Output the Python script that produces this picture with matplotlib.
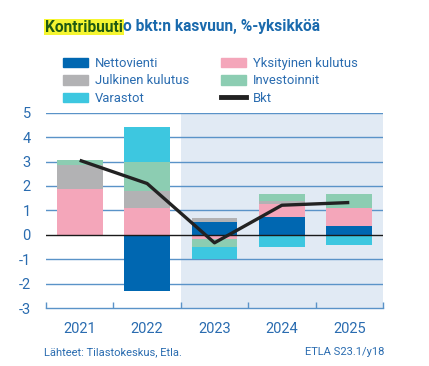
import matplotlib
matplotlib.use("Agg")
import matplotlib.pyplot as plt
from matplotlib.patches import Patch
from matplotlib.lines import Line2D
import numpy as np

plt.rcParams['font.family'] = ['Roboto', 'DejaVu Sans']

years = ["2021", "2022", "2023", "2024", "2025"]
nettovienti = [0.0, -2.31, 0.53, 0.72, 0.35]
yksityinen = [1.88, 1.08, -0.19, 0.56, 0.73]
julkinen = [0.96, 0.71, 0.14, 0.10, 0.0]
investoinnit = [0.23, 1.20, -0.32, 0.31, 0.61]
varastot = [0.0, 1.41, -0.50, -0.51, -0.41]
bkt = [3.05, 2.10, -0.33, 1.21, 1.32]

series = [
    ("Nettovienti", nettovienti, "#0067b1"),
    ("Yksityinen kulutus", yksityinen, "#f4a6ba"),
    ("Julkinen kulutus", julkinen, "#b2b2b4"),
    ("Investoinnit", investoinnit, "#8ccdb2"),
    ("Varastot", varastot, "#3dc7e0"),
]

blue_txt = "#2a6cb0"
grid_col = "#5a93c8"

fig = plt.figure(figsize=(4.29, 3.66), dpi=100)
ax = fig.add_axes([46/429, 58/366, 337/429, 195.3/366])

x = np.arange(len(years))
ax.axvspan(1.5, 4.5, color="#e1eaf4", zorder=0, lw=0)
for yv in range(-2, 6):
    if yv == 0:
        continue
    ax.axhline(yv, color=grid_col, lw=1.0, zorder=1)

pos = np.zeros(len(years))
neg = np.zeros(len(years))
for name, vals, col in series:
    v = np.array(vals)
    bottoms = np.where(v >= 0, pos, neg)
    ax.bar(x, v, bottom=bottoms, width=0.68, color=col, zorder=2, lw=0)
    pos = pos + np.where(v > 0, v, 0)
    neg = neg + np.where(v < 0, v, 0)

ax.axhline(0, color="#1a1a1a", lw=1.0, zorder=3)
ax.plot(x, bkt, color="#222222", lw=2.4, zorder=4, solid_capstyle="butt")

ax.set_xlim(-0.5, 4.5)
ax.set_ylim(-3, 5)
for s in ["top", "right", "left"]:
    ax.spines[s].set_visible(False)
ax.spines["bottom"].set_color(grid_col)
ax.spines["bottom"].set_linewidth(1.0)
ax.set_xticks(np.arange(-0.5, 5.0, 1.0))
ax.set_xticklabels([])
ax.set_xticks(x, minor=True)
ax.set_xticklabels(years, minor=True)
ax.tick_params(axis="x", which="major", direction="in", length=4, color=grid_col, width=1)
ax.tick_params(axis="x", which="minor", length=0, labelsize=10.5, labelcolor=blue_txt, pad=10)
ax.set_yticks(range(-3, 6))
ax.set_yticklabels([str(v) for v in range(-3, 6)])
ax.tick_params(axis="y", length=0, labelsize=10.5, labelcolor=blue_txt, pad=11)

# Legend (two columns placed separately)
col1 = [
    Patch(color="#0067b1", label="Nettovienti"),
    Patch(color="#b2b2b4", label="Julkinen kulutus"),
    Patch(color="#3dc7e0", label="Varastot"),
]
col2 = [
    Patch(color="#f4a6ba", label="Yksityinen kulutus"),
    Patch(color="#8ccdb2", label="Investoinnit"),
    Line2D([0], [0], color="#222222", lw=3.5, label="Bkt"),
]
fs = 9.4
for hs, xa in [(col1, 63), (col2, 221)]:
    leg = fig.legend(handles=hs, loc="upper left",
                     bbox_to_anchor=(xa/429, 1 - 57/366), frameon=False,
                     fontsize=fs, handlelength=1.95, handleheight=0.75,
                     labelspacing=0.34, handletextpad=0.48,
                     borderaxespad=0, borderpad=0)
    for t in leg.get_texts():
        t.set_color(blue_txt)

# Title with highlighted part
ty = 1 - 27/366
t1 = fig.text(45/429, ty, "Kontribuuti", fontsize=11.2, fontweight="bold",
              color="#1f5a12", va="center", ha="left",
              bbox=dict(facecolor="#f5f530", edgecolor="none", pad=0.6))
fig.canvas.draw()
bb = t1.get_window_extent()
x_end = bb.x1 / fig.bbox.width
fig.text(x_end, ty, "o bkt:n kasvuun, %-yksikköä", fontsize=11.2,
         fontweight="bold", color="#1a6aad", va="center", ha="left")

fig.text(44/429, 1 - 352/366, "Lähteet: Tilastokeskus, Etla.", fontsize=8,
         color=blue_txt, va="center", ha="left")
fig.text(384/429, 1 - 352/366, "ETLA S23.1/y18", fontsize=8,
         color=blue_txt, va="center", ha="right")

fig.savefig("out.png", dpi=100)
